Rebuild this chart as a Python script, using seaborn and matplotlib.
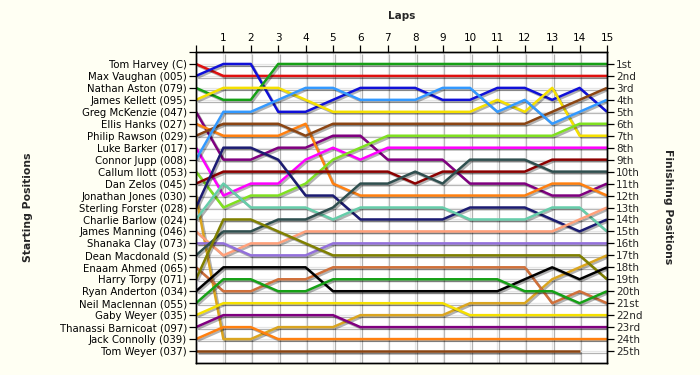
import numpy as np
import pandas as pd
import matplotlib
matplotlib.use("Agg")
import matplotlib.pyplot as plt
import matplotlib.patheffects as pe
import seaborn as sns

# ---------------- data ----------------
laps = list(range(16))

starting_labels = [
    "Tom Harvey (C)", "Max Vaughan (005)", "Nathan Aston (079)", "James Kellett (095)",
    "Greg McKenzie (047)", "Ellis Hanks (027)", "Philip Rawson (029)", "Luke Barker (017)",
    "Connor Jupp (008)", "Callum Ilott (053)", "Dan Zelos (045)", "Jonathan Jones (030)",
    "Sterling Forster (028)", "Charlie Barlow (024)", "James Manning (046)", "Shanaka Clay (073)",
    "Dean Macdonald (S)", "Enaam Ahmed (065)", "Harry Torpy (071)", "Ryan Anderton (034)",
    "Neil Maclennan (055)", "Gaby Weyer (035)", "Thanassi Barnicoat (097)", "Jack Connolly (039)",
    "Tom Weyer (037)",
]

finishing_labels = [
    "1st", "2nd", "3rd", "4th", "5th", "6th", "7th", "8th", "9th", "10th",
    "11th", "12th", "13th", "14th", "15th", "16th", "17th", "18th", "19th", "20th",
    "21st", "22nd", "23rd", "24th", "25th",
]

tom_harvey         = [1, 2, 2, 2, 2, 2, 2, 2, 2, 2, 2, 2, 2, 2, 2, 2]
max_vaughan        = [2, 1, 1, 5, 5, 4, 3, 3, 3, 4, 4, 3, 3, 4, 3, 5]
nathan_aston       = [3, 4, 4, 1, 1, 1, 1, 1, 1, 1, 1, 1, 1, 1, 1, 1]
james_kellett      = [4, 3, 3, 3, 4, 5, 5, 5, 5, 5, 5, 4, 5, 3, 7, 7]
greg_mckenzie      = [5, 9, 9, 8, 8, 7, 7, 9, 9, 9, 11, 11, 11, 12, 12, 11]
ellis_hanks        = [6, 7, 7, 7, 6, 11, 12, 12, 12, 12, 12, 12, 12, 11, 11, 12]
philip_rawson      = [7, 6, 6, 6, 7, 6, 6, 6, 6, 6, 6, 6, 6, 5, 4, 3]
luke_barker        = [8, 12, 11, 11, 9, 8, 9, 8, 8, 8, 8, 8, 8, 8, 8, 8]
connor_jupp        = [9, 5, 5, 4, 3, 3, 4, 4, 4, 3, 3, 5, 4, 6, 5, 4]
callum_ilott       = [10, 13, 12, 12, 11, 9, 8, 7, 7, 7, 7, 7, 7, 7, 6, 6]
dan_zelos          = [11, 10, 10, 10, 10, 10, 10, 10, 11, 10, 10, 10, 10, 9, 9, 9]
jonathan_jones     = [12, 24, 24, 23, 23, 23, 22, 22, 22, 22, 21, 21, 21, 19, 18, 17]
sterling_forster   = [13, 8, 8, 9, 12, 12, 14, 14, 14, 14, 13, 13, 13, 14, 15, 14]
charlie_barlow     = [14, 11, 13, 13, 13, 14, 13, 13, 13, 13, 14, 14, 14, 13, 13, 15]
james_manning      = [15, 17, 16, 16, 15, 15, 15, 15, 15, 15, 15, 15, 15, 15, 14, 13]
shanaka_clay       = [16, 16, 17, 17, 17, 16, 16, 16, 16, 16, 16, 16, 16, 16, 16, 16]
dean_macdonald     = [17, 15, 15, 14, 14, 13, 11, 11, 10, 11, 9, 9, 9, 10, 10, 10]
enaam_ahmed        = [18, 20, 20, 19, 19, 18, 18, 18, 18, 18, 18, 18, 18, 21, 20, 21]
harry_torpy        = [19, 14, 14, 15, 16, 17, 17, 17, 17, 17, 17, 17, 17, 17, 17, 19]
ryan_anderton      = [20, 18, 18, 18, 18, 20, 20, 20, 20, 20, 20, 20, 19, 18, 19, 18]
neil_maclennan     = [21, 19, 19, 20, 20, 19, 19, 19, 19, 19, 19, 19, 20, 20, 21, 20]
gaby_weyer         = [22, 21, 21, 21, 21, 21, 21, 21, 21, 21, 22, 22, 22, 22, 22, 22]
thanassi_barnicoat = [23, 22, 22, 22, 22, 22, 23, 23, 23, 23, 23, 23, 23, 23, 23, 23]
jack_connolly      = [24, 23, 23, 24, 24, 24, 24, 24, 24, 24, 24, 24, 24, 24, 24, 24]
tom_weyer          = [25, 25, 25, 25, 25, 25, 25, 25, 25, 25, 25, 25, 25, 25, 25, np.nan]

driver_positions = [
    tom_harvey, max_vaughan, nathan_aston, james_kellett, greg_mckenzie, ellis_hanks,
    philip_rawson, luke_barker, connor_jupp, callum_ilott, dan_zelos, jonathan_jones,
    sterling_forster, charlie_barlow, james_manning, shanaka_clay, dean_macdonald,
    enaam_ahmed, harry_torpy, ryan_anderton, neil_maclennan, gaby_weyer,
    thanassi_barnicoat, jack_connolly, tom_weyer,
]

line_colors = [
    "#E01010", "#1010D8", "#16A016", "#F5E000", "#800080", "#FF8010", "#8B4513",
    "#FF00FF", "#3399FF", "#80E020", "#8B0000", "#DAA520", "#1C1C72", "#66CDAA",
    "#FFA07A", "#9370DB", "#2F4F4F", "#D0703A", "#808000", "#000000", "#16A016",
    "#F5E000", "#800080", "#FF8010", "#8B4513",
]

# ---------------- long table ----------------
rows = []
for name, pos in zip(starting_labels, driver_positions):
    for lap, p in zip(laps, pos):
        rows.append({"driver": name, "lap": lap, "position": p})
df = pd.DataFrame(rows).dropna()
palette = dict(zip(starting_labels, line_colors))

# ---------------- figure ----------------
sns.set_theme(style="white")
plt.rcParams["font.family"] = ["DejaVu Sans"]

bg = "#FFFFF3"
fig = plt.figure(figsize=(7.0, 3.75), dpi=100, facecolor=bg)
ax = fig.add_axes([196 / 700, 1 - 363 / 375, (607 - 196) / 700, (363 - 52) / 375])
ax.set_facecolor("white")

# grid
for lap in laps[1:]:
    ax.axvline(lap, color="#E6E6E6", lw=0.9, zorder=0)
for p in range(1, 26):
    ax.axhline(p, color="#E6E6E6", lw=0.9, zorder=0)

sns.lineplot(data=df, x="lap", y="position", hue="driver", palette=palette,
             hue_order=starting_labels, units="driver", estimator=None, sort=False,
             legend=False, linewidth=1.8, ax=ax)

for ln in ax.lines:
    ln.set_path_effects([
        pe.SimpleLineShadow(offset=(1.2, -1.2), shadow_color="black", alpha=0.3),
        pe.Normal(),
    ])
    ln.set_solid_capstyle("butt")

ax.set_xlim(0, 15)
ax.set_ylim(26, 0)

# x axis on top
ax.xaxis.tick_top()
ax.xaxis.set_label_position("top")
ax.set_xticks(laps)
ax.set_xticklabels([""] + [str(l) for l in laps[1:]], fontsize=7.5)
ax.set_xlabel("Laps", fontsize=7.5, fontweight="bold", labelpad=10)

# left y axis
ax.set_yticks(range(0, 26))
ax.set_yticklabels([""] + starting_labels, fontsize=7.3)
ax.set_ylabel("")
ax.tick_params(axis="both", direction="out", length=5, width=0.9, color="black",
               pad=1.5, labelcolor="black")
ax.tick_params(axis="x", top=True, bottom=False)
ax.tick_params(axis="y", left=True)

# right y axis
ax2 = ax.twinx()
ax2.set_ylim(26, 0)
ax2.set_yticks(range(1, 26))
ax2.set_yticklabels(finishing_labels, fontsize=7.5)
ax2.tick_params(axis="y", direction="out", length=5, width=0.9, color="black",
                pad=1.5, right=True)
ax2.grid(False)

for a in (ax, ax2):
    for s in a.spines.values():
        s.set_visible(True)
        s.set_color("black")
        s.set_linewidth(1.0)

fig.text(28 / 700, 1 - 207 / 375, "Starting Positions", rotation=90, fontsize=7.8,
         fontweight="bold", ha="center", va="center")
fig.text(668 / 700, 1 - 207 / 375, "Finishing Positions", rotation=270, fontsize=7.8,
         fontweight="bold", ha="center", va="center")

fig.savefig("out.png", dpi=100, facecolor=bg)
